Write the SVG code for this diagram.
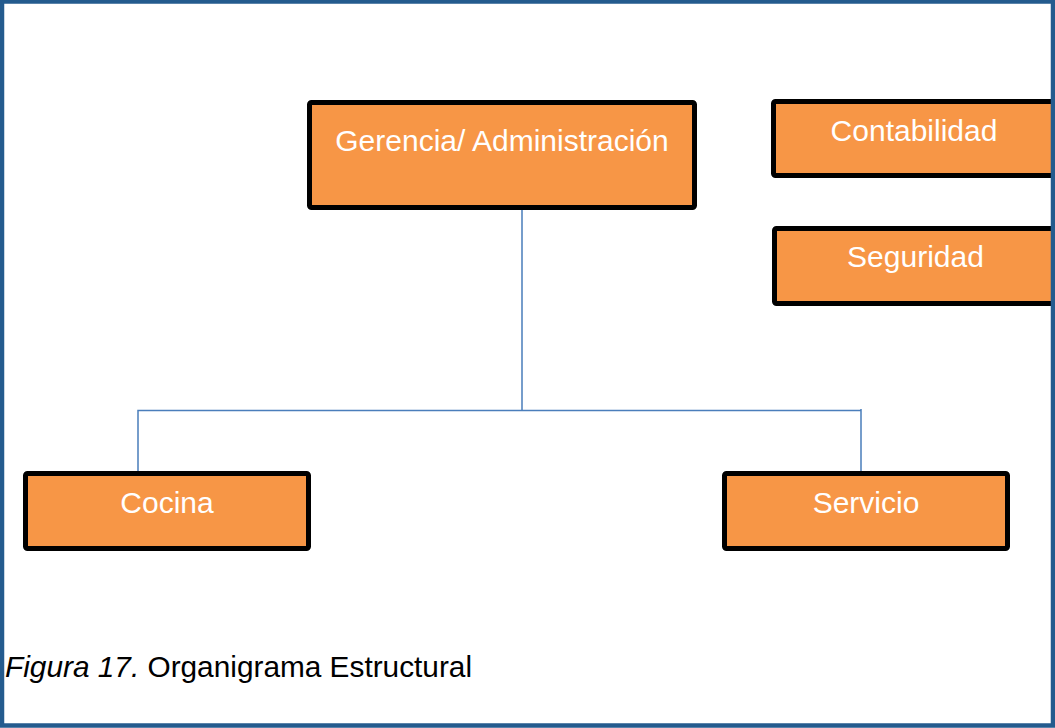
<svg xmlns="http://www.w3.org/2000/svg" width="1055" height="728" viewBox="0 0 1055 728">
<style>
.box{fill:#F79646;stroke:#000;stroke-width:5;stroke-linejoin:round}
.lbl{font-family:"Liberation Sans",Arial,sans-serif;font-size:30px;fill:#fff;text-anchor:middle}
.conn{fill:none;stroke:#4A7EBB;stroke-width:1.5}
.cap{font-family:"Liberation Sans",Arial,sans-serif;font-size:29.8px;fill:#000}
</style>
<rect width="1055" height="728" fill="#fff"/>
<g id="connectors">
<path class="conn" d="M522 210 V410.5 M138 471 V410.5 H861 M861 409 V471"/>
</g>
<g id="gerencia">
<rect class="box" x="309.5" y="102.5" width="385" height="105" rx="2"/>
<text class="lbl" x="502" y="151">Gerencia/ Administración</text>
</g>
<g id="contabilidad">
<rect class="box" x="773.5" y="101.5" width="290" height="74" rx="2"/>
<text class="lbl" x="914" y="141">Contabilidad</text>
</g>
<g id="seguridad">
<rect class="box" x="774.5" y="228.5" width="290" height="75" rx="2"/>
<text class="lbl" x="915.5" y="267">Seguridad</text>
</g>
<g id="cocina">
<rect class="box" x="25.5" y="473.5" width="283" height="75" rx="2"/>
<text class="lbl" x="167" y="513">Cocina</text>
</g>
<g id="servicio">
<rect class="box" x="724.5" y="473.5" width="283" height="75" rx="2"/>
<text class="lbl" x="866" y="512.5">Servicio</text>
</g>
<text class="cap" x="5" y="677"><tspan font-style="italic">Figura 17.</tspan> Organigrama Estructural</text>
<rect x="2" y="1.5" width="1051" height="724" fill="none" stroke="#245B8E" stroke-width="4.5"/>
</svg>
